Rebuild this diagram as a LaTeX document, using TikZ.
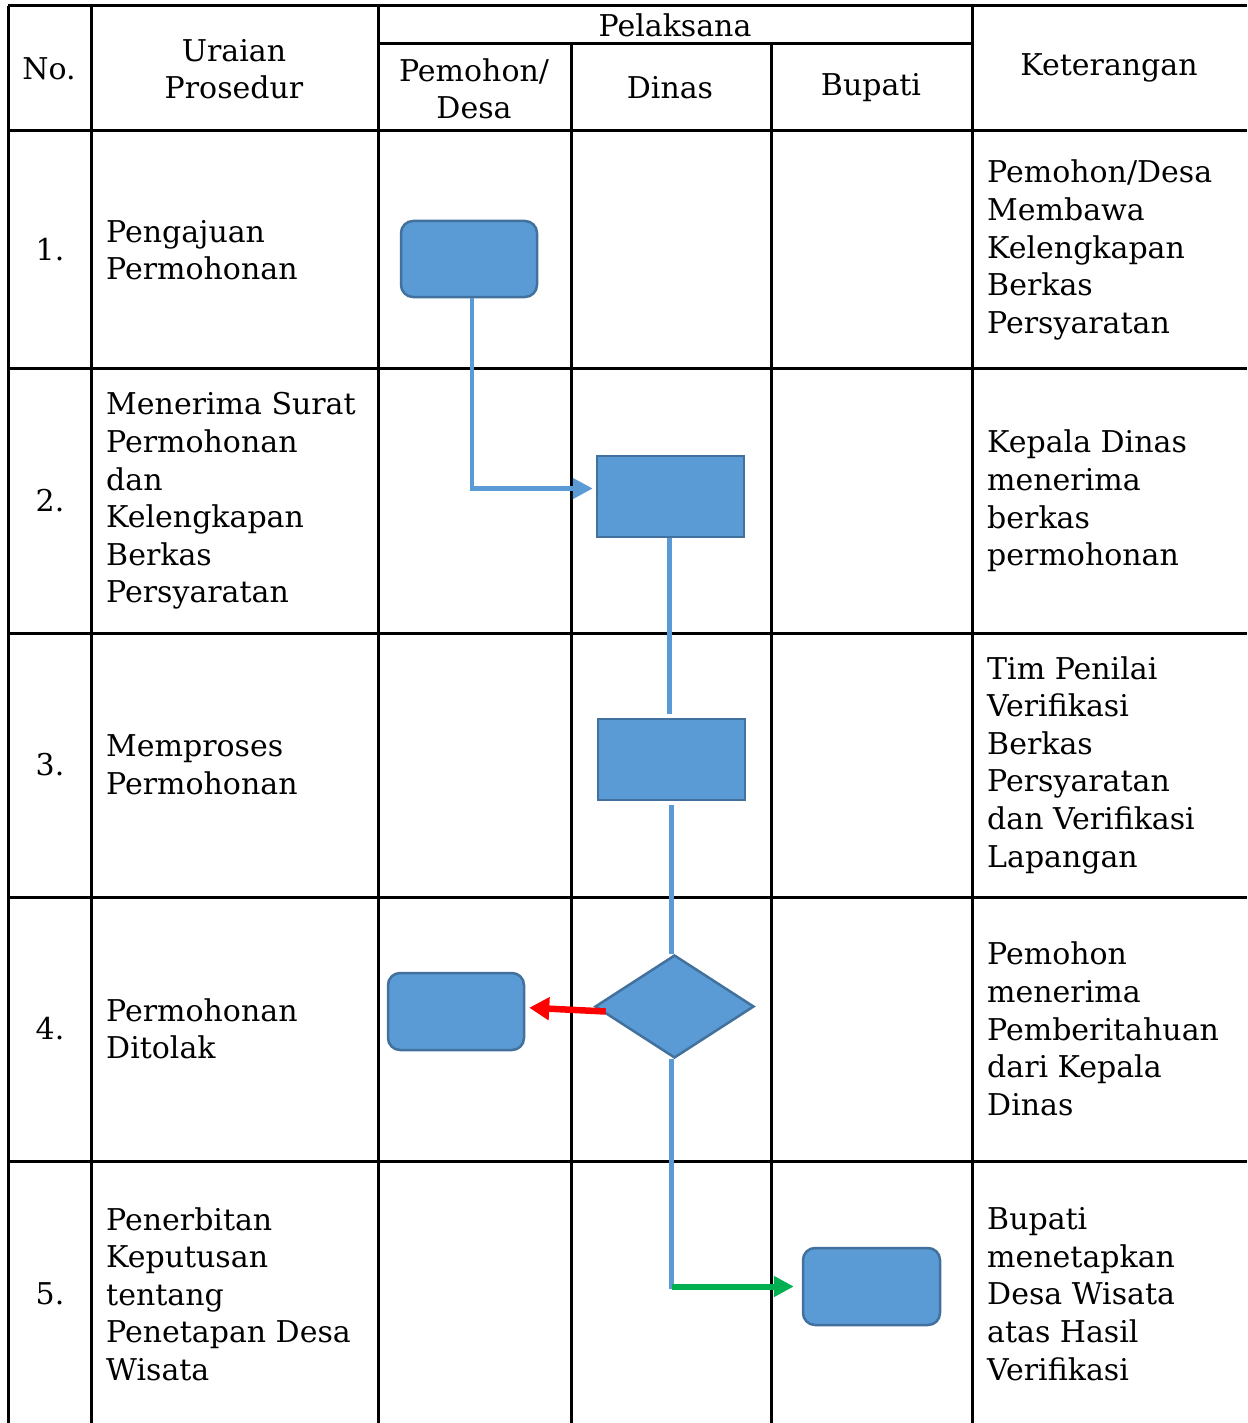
\documentclass[tikz,border=0pt]{standalone}
\usepackage{fontspec}
\setmainfont{DejaVu Serif}
\usetikzlibrary{shapes.geometric,arrows.meta}
\definecolor{boxfill}{HTML}{5B9BD5}
\definecolor{boxline}{HTML}{41719C}
\definecolor{flowgreen}{HTML}{00B050}
\begin{document}
\begin{tikzpicture}[x=1pt,y=-1pt,
  grid/.style={line width=3pt,black},
  txt/.style={font=\fontsize{30}{37.6}\selectfont,inner sep=0pt,align=left,anchor=west},
  ctxt/.style={font=\fontsize{30}{37.6}\selectfont,inner sep=0pt,align=center},
  rbox/.style={draw=boxline,fill=boxfill,line width=2.5pt,rounded corners=12pt,inner sep=0pt},
  pbox/.style={draw=boxline,fill=boxfill,line width=2.5pt,inner sep=0pt},
  dbox/.style={draw=boxline,fill=boxfill,line width=2.5pt,diamond,aspect=1.54,inner sep=0pt},
  flow/.style={draw=boxfill,line width=4.5pt},
  tip/.style={-{Triangle[length=20pt,width=20pt]}}
]
\useasboundingbox (0,0) rectangle (1247,1423);
% grid
\draw[grid] (8,6) -- (1247,6);
\draw[grid] (378,44) -- (972,44);
\foreach \yy in {131,368,633,897,1161} \draw[grid] (8,\yy) -- (1247,\yy);
\draw[grid] (8,6) -- (8,1423);
\draw[grid] (91,6) -- (91,1423);
\draw[grid] (378,6) -- (378,1423);
\draw[grid] (571,44) -- (571,1423);
\draw[grid] (771,44) -- (771,1423);
\draw[grid] (972,6) -- (972,1423);
% header
\node[ctxt] (hno) at (49,69) {No.};
\node[ctxt] (hur) at (234,69) {Uraian\\Prosedur};
\node[ctxt] (hpel) at (675,25) {Pelaksana};
\node[ctxt] (hpem) at (474,89) {Pemohon/\\Desa};
\node[ctxt] (hdin) at (670,88) {Dinas};
\node[ctxt] (hbup) at (871,88) {Bupati};
\node[ctxt] (hket) at (1109,68) {Keterangan};
% numbers
\node[ctxt] (n1) at (50,250) {1.};
\node[ctxt] (n2) at (50,501) {2.};
\node[ctxt] (n3) at (50,765) {3.};
\node[ctxt] (n4) at (50,1029) {4.};
\node[ctxt] (n5) at (50,1294) {5.};
% uraian
\node[txt] (u1) at (106,250) {Pengajuan\\Permohonan};
\node[txt] (u2) at (106,501) {Menerima Surat\\Permohonan\\dan\\Kelengkapan\\Berkas\\Persyaratan};
\node[txt] (u3) at (106,765) {Memproses\\Permohonan};
\node[txt] (u4) at (106,1029) {Permohonan\\Ditolak};
\node[txt] (u5) at (106,1294) {Penerbitan\\Keputusan\\tentang\\Penetapan Desa\\Wisata};
% keterangan
\node[txt] (k1) at (987,250) {Pemohon/Desa\\Membawa\\Kelengkapan\\Berkas\\Persyaratan};
\node[txt] (k2) at (987,501) {Kepala Dinas\\menerima\\berkas\\permohonan};
\node[txt] (k3) at (987,765) {Tim Penilai\\Verifikasi\\Berkas\\Persyaratan\\dan Verifikasi\\Lapangan};
\node[txt] (k4) at (987,1029) {Pemohon\\menerima\\Pemberitahuan\\dari Kepala\\Dinas};
\node[txt] (k5) at (987,1294) {Bupati\\menetapkan\\Desa Wisata\\atas Hasil\\Verifikasi};
% shapes
\node[rbox,minimum width=136pt,minimum height=76pt] (b1) at (469,259) {};
\node[pbox,minimum width=147pt,minimum height=81pt] (b2) at (670.5,496.5) {};
\node[pbox,minimum width=147pt,minimum height=81pt] (b3) at (671.5,759.5) {};
\node[dbox,minimum width=159pt,minimum height=103pt] (d) at (674.5,1006.5) {};
\node[rbox,minimum width=136pt,minimum height=77pt] (b4) at (456,1011.5) {};
\node[rbox,minimum width=137pt,minimum height=77pt] (b5) at (871.5,1286.5) {};
% connectors
\draw[flow,tip,shorten >=3pt] ([xshift=3pt]b1.south) |- ([yshift=8pt]b2.west);
\draw[flow] ([xshift=-1pt]b2.south) -- ([xshift=-1pt,yshift=4pt]b2.south |- b3.north);
\draw[flow] ([yshift=-4pt]b3.south) -- (b3.south |- d.north);
\draw[draw=red,line width=6.5pt,-{Triangle[length=20pt,width=22pt]},shorten >=4pt] ([xshift=12pt,yshift=-5pt]d.west) -- ([yshift=4pt]b4.east);
\coordinate (turn) at (b3.south |- b5.west);
\draw[flow] (b3.south |- d.south) -- ([yshift=-2pt]turn);
\draw[draw=flowgreen,line width=6pt,-{Triangle[length=20pt,width=20pt]},shorten >=8pt] (turn) -- (b5.west);
\end{tikzpicture}
\end{document}
